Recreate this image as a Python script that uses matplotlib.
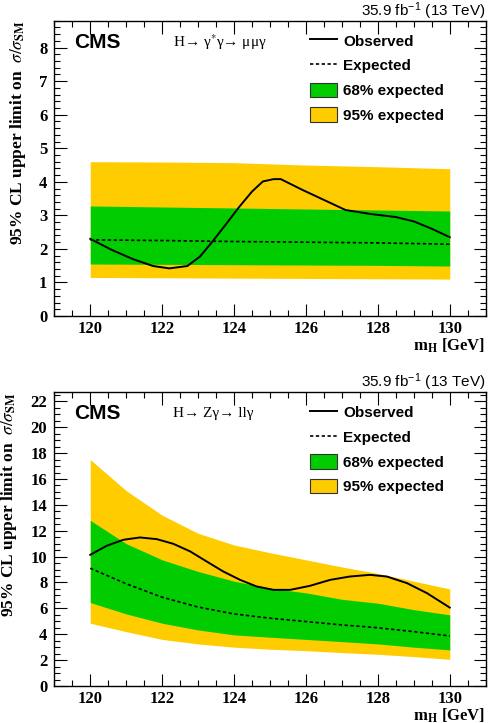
import matplotlib
matplotlib.use("Agg")
import matplotlib.pyplot as plt
from matplotlib.lines import Line2D
from matplotlib.patches import Patch
from matplotlib.ticker import MultipleLocator

plt.rcParams['mathtext.fontset'] = 'stix'

# --- H -> gamma* gamma -> mu mu gamma ---
mass_band = [120, 122, 124, 126, 128, 130]
top_up95 = [4.60, 4.59, 4.57, 4.50, 4.45, 4.39]
top_up68 = [3.28, 3.25, 3.22, 3.19, 3.16, 3.13]
top_dn68 = [1.55, 1.54, 1.53, 1.52, 1.51, 1.49]
top_dn95 = [1.15, 1.14, 1.13, 1.12, 1.11, 1.10]
top_exp = [2.27, 2.25, 2.22, 2.20, 2.18, 2.14]

top_obs_m = [120, 120.6, 121.2, 121.75, 122.2, 122.7, 123.05, 123.4, 123.8, 124.15, 124.5,
             124.8, 125.1, 125.3, 125.9, 126.5, 127.1, 127.8, 128.5, 129.0, 129.5, 130]
top_obs = [2.30, 1.97, 1.69, 1.49, 1.42, 1.49, 1.77, 2.22, 2.77, 3.26, 3.71,
           4.01, 4.08, 4.08, 3.76, 3.46, 3.16, 3.04, 2.95, 2.82, 2.60, 2.35]

# --- H -> Z gamma -> l l gamma ---
mass_bot = [120, 121, 122, 123, 124, 125, 126, 127, 128, 129, 130]
bot_up95 = [17.5, 15.1, 13.2, 11.8, 10.9, 10.3, 9.75, 9.2, 8.7, 8.1, 7.5]
bot_up68 = [12.8, 11.0, 9.75, 8.85, 8.1, 7.55, 7.2, 6.7, 6.4, 5.9, 5.5]
bot_exp = [9.1, 7.9, 6.86, 6.1, 5.57, 5.24, 4.98, 4.72, 4.5, 4.2, 3.87]
bot_dn68 = [6.45, 5.57, 4.85, 4.33, 3.95, 3.77, 3.6, 3.43, 3.25, 3.0, 2.79]
bot_dn95 = [4.85, 4.2, 3.6, 3.25, 3.0, 2.84, 2.73, 2.58, 2.45, 2.27, 2.06]

bot_obs_m = [120, 120.46, 120.92, 121.38, 121.85, 122.31, 122.78, 123.24, 123.7, 124.17,
             124.63, 125.1, 125.56, 126.11, 126.67, 127.22, 127.78, 128.25, 128.81, 129.37, 130]
bot_obs = [10.14, 10.84, 11.3, 11.48, 11.35, 10.99, 10.4, 9.62, 8.85, 8.2,
           7.69, 7.43, 7.43, 7.74, 8.2, 8.46, 8.59, 8.46, 7.95, 7.17, 6.06]

GREEN = '#00cc00'
YELLOW = '#ffcc00'

fig = plt.figure(figsize=(4.91, 7.23), dpi=100)
ax1 = fig.add_axes([0.1106, 0.5629, 0.8786, 0.4084])
ax2 = fig.add_axes([0.1106, 0.0512, 0.8786, 0.4062])

panels = [
    (ax1, mass_band, top_dn95, top_up95, top_dn68, top_up68, top_exp, top_obs_m, top_obs,
     8.8, 1, 0.2, 'H→ γ$^{*}$γ→ μμγ'),
    (ax2, mass_bot, bot_dn95, bot_up95, bot_dn68, bot_up68, bot_exp, bot_obs_m, bot_obs,
     22.7, 2, 0.5, 'H→ Zγ→ llγ'),
]

for ax, xm, d95, u95, d68, u68, exp, xo, obs, ymax, ymaj, ymin, proc in panels:
    ax.fill_between(xm, d95, u95, color=YELLOW, lw=0)
    ax.fill_between(xm, d68, u68, color=GREEN, lw=0)
    ax.plot(xm, exp, color='black', ls=(0, (2, 1.5)), lw=1.2)
    ax.plot(xo, obs, color='black', lw=1.4)

    ax.set_xlim(119, 131)
    ax.set_ylim(0, ymax)
    ax.xaxis.set_major_locator(MultipleLocator(2))
    ax.xaxis.set_minor_locator(MultipleLocator(0.5))
    ax.yaxis.set_major_locator(MultipleLocator(ymaj))
    ax.yaxis.set_minor_locator(MultipleLocator(ymin))
    ax.tick_params(which='both', direction='in', top=True, right=True, width=0.8)
    ax.tick_params(which='major', length=9, pad=5)
    ax.tick_params(axis='x', which='major', pad=3.5)
    ax.tick_params(which='minor', length=4.5)
    for s in ax.spines.values():
        s.set_linewidth(1.0)
    for lab in ax.get_xticklabels() + ax.get_yticklabels():
        lab.set_family('Liberation Serif')
        lab.set_weight('bold')
        lab.set_fontsize(12)

    ax.set_xlabel(r'm$_\mathbf{H}$ [GeV]', loc='right', family='Liberation Serif',
                  weight='bold', fontsize=12, labelpad=-0.5)
    ax.set_ylabel(r'95% CL upper limit on  $\sigma/\sigma_{\mathbf{SM}}$', loc='top',
                  family='Liberation Serif', weight='bold', fontsize=12.5, labelpad=8)

    ax.text(0.046, 0.927, 'CMS', transform=ax.transAxes, family='Liberation Sans',
            weight='bold', fontsize=15, va='center', ha='left')
    ax.text(0.275, 0.927, proc, transform=ax.transAxes, family='Liberation Serif',
            fontsize=11, va='center', ha='left')
    ax.text(1.0, 1.017, r'35.9 fb$^{\mathregular{-1}}$ (13 TeV)', transform=ax.transAxes,
            family='Liberation Sans', fontsize=11, va='baseline', ha='right')

    handles = [Line2D([], [], color='black', lw=1.4),
               Line2D([], [], color='black', lw=1.2, ls=(0, (2, 1.5))),
               Patch(facecolor=GREEN, edgecolor='#333333', lw=0.8),
               Patch(facecolor=YELLOW, edgecolor='#333333', lw=0.8)]
    labels = ['Observed', 'Expected', '68% expected', '95% expected']
    ax.legend(handles, labels, loc='upper left', bbox_to_anchor=(0.593, 0.958),
              frameon=False, prop={'family': 'Liberation Sans', 'weight': 'bold', 'size': 11},
              handlelength=1.75, handleheight=1.1, handletextpad=0.4, labelspacing=0.6,
              borderpad=0, borderaxespad=0)

fig.savefig('out.png', dpi=100)
